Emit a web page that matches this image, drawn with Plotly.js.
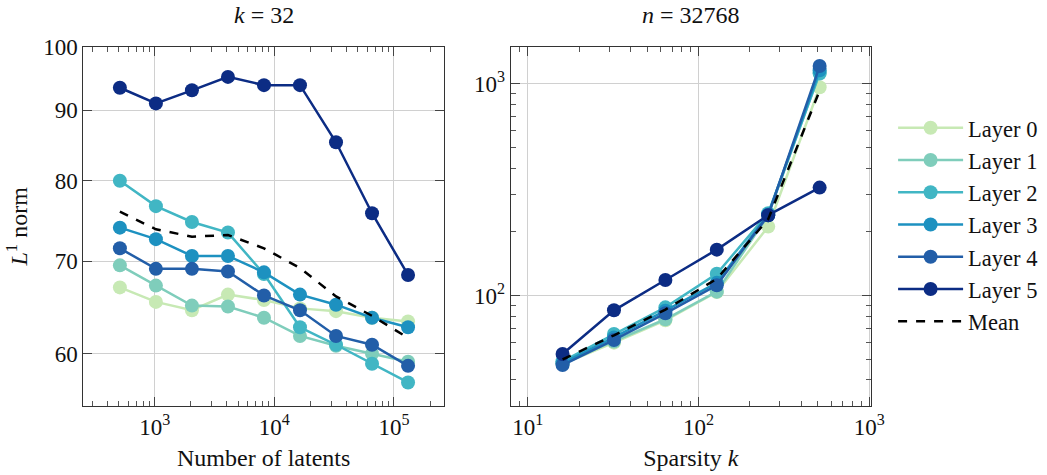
<!DOCTYPE html>
<html>
<head>
<meta charset="utf-8">
<script src="https://cdn.plot.ly/plotly-3.0.1.min.js"></script>
<style>html,body{margin:0;padding:0;background:#fff;}#plot{width:1047px;height:475px;}</style>
</head>
<body>
<div id="plot"></div>
<script>
// ---- data ----
const layerNames = ["Layer 0", "Layer 1", "Layer 2", "Layer 3", "Layer 4", "Layer 5"];
const layerColors = ["#c7e9b4", "#7fcdbb", "#41b6c4", "#1d91c0", "#225ea8", "#0c2c84"];

// Left panel: k = 32, x = number of latents
const numLatents = [512, 1024, 2048, 4096, 8192, 16384, 32768, 65536, 131072];
const l1Latents = [
  [67.0, 65.4, 64.5, 66.2, 65.6, 64.7, 64.4, 63.7, 63.3],   // Layer 0
  [69.5, 67.2, 65.0, 64.9, 63.7, 61.8, 60.8, 60.0, 59.2],   // Layer 1
  [80.0, 76.7, 74.7, 73.4, 68.5, 62.7, 60.9, 59.0, 57.2],   // Layer 2
  [74.0, 72.6, 70.6, 70.6, 68.7, 66.2, 65.1, 63.7, 62.7],   // Layer 3
  [71.5, 69.1, 69.1, 68.8, 66.1, 64.5, 61.8, 60.9, 58.8],   // Layer 4
  [93.4, 91.0, 93.0, 95.1, 93.8, 93.8, 85.3, 75.8, 68.4]    // Layer 5
];
const meanLatents = [76.0, 73.8, 72.9, 73.1, 71.5, 69.2, 66.0, 63.9, 61.6];

// Right panel: n = 32768, x = sparsity k
const sparsityK = [16, 32, 64, 128, 256, 512];
const l1Sparsity = [
  [47.5, 60.0, 76.5, 104, 212, 965],    // Layer 0
  [48.0, 60.7, 77.4, 104.5, 240, 1130], // Layer 1
  [49.0, 65.9, 88.1, 127, 245, 1120],   // Layer 2
  [48.0, 63.5, 85.0, 115, 242, 1160],   // Layer 3
  [47.0, 61.8, 82.6, 112, 240, 1215],   // Layer 4
  [53.0, 85.3, 118.6, 165, 240, 324]    // Layer 5
];
const meanSparsity = [50.0, 65.0, 86.0, 120, 230, 930];

const refLatents = 32768;   // dashed reference, left panel
const refK = 32;            // dashed reference, right panel

const leftYTicks = [60, 70, 80, 90, 100];
const leftXTicks = [1000, 10000, 100000];
const leftXTickText = ["10<sup>3</sup>", "10<sup>4</sup>", "10<sup>5</sup>"];
const rightXTicks = [10, 100, 1000];
const rightXTickText = ["10<sup>1</sup>", "10<sup>2</sup>", "10<sup>3</sup>"];
const rightYTicks = [100, 1000];
const rightYTickText = ["10<sup>2</sup>", "10<sup>3</sup>"];

// ---- traces ----
const traces = [];
layerNames.forEach((name, i) => {
  traces.push({
    x: numLatents, y: l1Latents[i], xaxis: "x", yaxis: "y",
    type: "scatter", mode: "lines+markers", name: name, legendgroup: name,
    line: {color: layerColors[i], width: 2.5},
    marker: {color: layerColors[i], size: 14},
    showlegend: true
  });
});
traces.push({
  x: numLatents, y: meanLatents, xaxis: "x", yaxis: "y",
  type: "scatter", mode: "lines", name: "Mean", legendgroup: "Mean",
  line: {color: "#000", width: 2.5, dash: "dash"}, showlegend: true
});
layerNames.forEach((name, i) => {
  traces.push({
    x: sparsityK, y: l1Sparsity[i], xaxis: "x2", yaxis: "y2",
    type: "scatter", mode: "lines+markers", name: name, legendgroup: name,
    line: {color: layerColors[i], width: 2.5},
    marker: {color: layerColors[i], size: 14},
    showlegend: false
  });
});
traces.push({
  x: sparsityK, y: meanSparsity, xaxis: "x2", yaxis: "y2",
  type: "scatter", mode: "lines", name: "Mean", legendgroup: "Mean",
  line: {color: "#000", width: 2.5, dash: "dash"}, showlegend: false
});

const FONT = "Liberation Serif";
const W = 1047, H = 475;
const frame = {
  showline: true, linecolor: "#333", linewidth: 1, mirror: "allticks",
  ticks: "inside", ticklen: 9, tickcolor: "#444", tickwidth: 1,
  showgrid: true, gridcolor: "#d0d0d0", gridwidth: 1, zeroline: false,
  tickfont: {family: FONT, size: 23, color: "#111"}
};
const minorLog = {ticks: "inside", ticklen: 5, tickcolor: "#555", dtick: "D1", showgrid: false};

const layout = {
  width: W, height: H,
  margin: {l: 0, r: 0, t: 0, b: 0},
  paper_bgcolor: "#fff", plot_bgcolor: "#fff",
  font: {family: FONT, size: 23, color: "#111"},
  showlegend: true,
  legend: {
    x: 0.853, y: 0.527, xanchor: "left", yanchor: "middle",
    font: {family: FONT, size: 22.5, color: "#111"},
    bgcolor: "rgba(0,0,0,0)", tracegroupgap: 0, itemwidth: 65
  },
  xaxis: Object.assign({}, frame, {
    type: "log", domain: [83.3 / W, 444 / W],
    range: [2.4035, 5.418], anchor: "y",
    tickmode: "array", tickvals: leftXTicks, ticktext: leftXTickText,
    minor: minorLog,
    title: {text: "Number of latents", font: {family: FONT, size: 24}, standoff: 10}
  }),
  yaxis: Object.assign({}, frame, {
    type: "log", domain: [(H - 406) / H, (H - 46.7) / H],
    range: [Math.log10(55.0), Math.log10(100.0)], anchor: "x",
    tickmode: "array", tickvals: leftYTicks, ticktext: leftYTicks.map(String),
    title: {text: "<i>L</i><sup>1</sup> norm", font: {family: FONT, size: 24}, standoff: 8}
  }),
  xaxis2: Object.assign({}, frame, {
    type: "log", domain: [510.7 / W, 871 / W],
    range: [0.9005, 3.01], anchor: "y2",
    tickmode: "array", tickvals: rightXTicks, ticktext: rightXTickText,
    minor: minorLog,
    title: {text: "Sparsity <i>k</i>", font: {family: FONT, size: 24}, standoff: 10}
  }),
  yaxis2: Object.assign({}, frame, {
    type: "log", domain: [(H - 406) / H, (H - 46.7) / H],
    range: [1.479, 3.176], anchor: "x2",
    tickmode: "array", tickvals: rightYTicks, ticktext: rightYTickText,
    minor: minorLog
  }),
  shapes: [
    {type: "line", xref: "x", yref: "y domain", x0: Math.log10(refLatents), x1: Math.log10(refLatents),
     y0: 0, y1: 1, line: {color: "#aaa", width: 1.5, dash: "dash"}, layer: "below"},
    {type: "line", xref: "x2", yref: "y2 domain", x0: Math.log10(refK), x1: Math.log10(refK),
     y0: 0, y1: 1, line: {color: "#aaa", width: 1.5, dash: "dash"}, layer: "below"}
  ],
  annotations: [
    {text: "<i>k</i> = 32", xref: "paper", yref: "paper", x: 264 / W, y: 1 - 15 / H,
     xanchor: "center", yanchor: "middle", showarrow: false, font: {family: FONT, size: 24}},
    {text: "<i>n</i> = 32768", xref: "paper", yref: "paper", x: 691 / W, y: 1 - 15 / H,
     xanchor: "center", yanchor: "middle", showarrow: false, font: {family: FONT, size: 24}}
  ]
};

Plotly.newPlot("plot", traces, layout, {displayModeBar: false, staticPlot: true});
</script>
</body>
</html>
